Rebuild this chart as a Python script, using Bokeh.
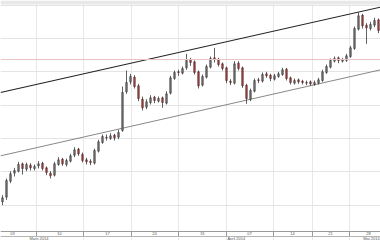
from bokeh.plotting import figure
from bokeh.models import Range1d, FixedTicker, ColumnDataSource, Span, BoxAnnotation
from bokeh.core.properties import value
from bokeh.embed import file_html
from bokeh.resources import INLINE

# ---- data ----
open_ = [4255, 4262, 4286, 4298, 4301, 4312, 4304, 4310, 4305, 4309, 4313, 4306, 4298, 4295, 4311, 4319, 4311, 4316, 4325, 4334,
         4326, 4318, 4316, 4313, 4331, 4344, 4352, 4350, 4355, 4352, 4362, 4420, 4435, 4442, 4429, 4409, 4397, 4404, 4412, 4406,
         4411, 4403, 4418, 4440, 4450, 4448, 4456, 4468, 4465, 4450, 4430, 4442, 4457, 4471, 4469, 4462, 4456, 4436, 4433, 4463,
         4456, 4430, 4409, 4421, 4438, 4436, 4447, 4445, 4439, 4443, 4446, 4454, 4441, 4433, 4438, 4436, 4433, 4435, 4431, 4433,
         4437, 4449, 4457, 4466, 4471, 4466, 4467, 4473, 4485, 4514, 4535, 4520, 4515, 4520, 4528]
high = [4265, 4290, 4301, 4306, 4315, 4314, 4314, 4313, 4311, 4316, 4315, 4308, 4301, 4315, 4322, 4321, 4320, 4327, 4337, 4336,
        4329, 4321, 4319, 4335, 4348, 4356, 4356, 4358, 4357, 4363, 4428, 4452, 4447, 4445, 4432, 4413, 4409, 4415, 4414, 4413,
        4413, 4421, 4444, 4452, 4453, 4458, 4477, 4471, 4467, 4452, 4446, 4461, 4473, 4486, 4471, 4464, 4458, 4439, 4466, 4466,
        4458, 4432, 4425, 4440, 4441, 4449, 4450, 4447, 4447, 4450, 4456, 4456, 4443, 4440, 4440, 4438, 4437, 4437, 4437, 4441,
        4453, 4461, 4470, 4473, 4473, 4471, 4477, 4489, 4518, 4539, 4537, 4523, 4525, 4531, 4530]
low = [4250, 4258, 4283, 4293, 4299, 4296, 4301, 4302, 4302, 4305, 4302, 4295, 4290, 4293, 4309, 4309, 4308, 4314, 4322, 4324,
       4314, 4311, 4310, 4311, 4329, 4342, 4347, 4348, 4347, 4349, 4360, 4417, 4431, 4425, 4406, 4392, 4394, 4401, 4403, 4404,
       4396, 4401, 4416, 4438, 4444, 4446, 4453, 4459, 4446, 4425, 4428, 4440, 4455, 4464, 4458, 4452, 4433, 4430, 4431, 4452,
       4426, 4402, 4406, 4419, 4433, 4434, 4441, 4436, 4437, 4441, 4444, 4437, 4431, 4431, 4432, 4431, 4430, 4429, 4429, 4431,
       4435, 4447, 4455, 4464, 4463, 4464, 4465, 4471, 4483, 4512, 4515, 4492, 4512, 4517, 4508]
close = [4261, 4287, 4297, 4302, 4311, 4305, 4311, 4306, 4308, 4312, 4305, 4299, 4294, 4312, 4318, 4312, 4317, 4324, 4333, 4327,
         4317, 4315, 4314, 4332, 4345, 4353, 4351, 4354, 4351, 4359, 4419, 4434, 4443, 4428, 4410, 4396, 4405, 4411, 4407, 4410,
         4404, 4417, 4441, 4449, 4449, 4455, 4467, 4464, 4449, 4429, 4443, 4458, 4470, 4468, 4461, 4455, 4437, 4434, 4462, 4455,
         4429, 4410, 4422, 4437, 4437, 4446, 4444, 4440, 4444, 4447, 4453, 4440, 4434, 4437, 4435, 4434, 4434, 4432, 4434, 4438,
         4450, 4458, 4467, 4470, 4467, 4468, 4474, 4486, 4515, 4534, 4519, 4516, 4521, 4527, 4512]

# channel trend lines (bar index, price)
trend_x = [-0.5, 94.5]
upper_trend = [4419, 4547]
lower_trend = [4324, 4453]
level_lines = [4468.5]

# time axis
week_ticks = [8.5, 20.25, 32.25, 44, 56, 67.75, 77.5, 86.75]
day_label_pos = [2.5, 14.25, 26.25, 38, 50, 61.75, 72.5, 82, 91.5]
day_labels = ["03", "10", "17", "24", "31", "07", "14", "21", "28"]
month_label_pos = [6.75, 56.25, 94.3]
month_labels = ["Mars 2014", "Avril 2014", "Mai 2014"]
month_align = ["left", "left", "right"]
price_grid = [4250, 4300, 4350, 4400, 4450, 4500, 4550]

# ---- figure ----
n = len(close)
idx = list(range(n))
up = [c >= o for o, c in zip(open_, close)]
src = ColumnDataSource(dict(
    x=idx, o=open_, h=high, l=low, c=close,
    top=[max(o, c) for o, c in zip(open_, close)],
    bot=[min(o, c) for o, c in zip(open_, close)],
    fill=["#7a7a7a" if u else "#a04646" for u in up],
    edge=["#333333" if u else "#552222" for u in up],
))

p = figure(width=380, height=240, output_backend="svg", toolbar_location=None,
           x_range=Range1d(-0.5, 94.5), y_range=Range1d(4197, 4557), min_border=0)
p.xaxis.visible = False
p.yaxis.visible = False
p.outline_line_color = None
p.background_fill_color = "white"
p.border_fill_color = "white"
p.xgrid.ticker = FixedTicker(ticks=week_ticks)
p.ygrid.ticker = FixedTicker(ticks=price_grid)
p.xgrid.grid_line_color = "#e8e8e8"
p.ygrid.grid_line_color = "#e4e4e4"
p.grid.grid_line_width = 1

# top shade band
p.add_layout(BoxAnnotation(bottom=4551, top=4557, fill_color="#e8e8e8", fill_alpha=1, line_color=None))

for lv in level_lines:
    p.add_layout(Span(location=lv, dimension="width", line_color="#e8c4c4", line_width=1))

# channel
p.line(trend_x, lower_trend, line_color="#7a7a7a", line_width=0.9)
p.line(trend_x, upper_trend, line_color="#222222", line_width=1.1)

# candles
p.segment(x0="x", y0="h", x1="x", y1="l", source=src, line_color="#3a3a3a", line_width=0.8)
p.vbar(x="x", top="top", bottom="bot", width=0.38, source=src, fill_color="fill", line_color="edge", line_width=0.6)

# bottom time strip
p.add_layout(Span(location=4210.5, dimension="width", line_color="#9a9a9a", line_width=1))
p.add_layout(Span(location=4203, dimension="width", line_color="#b4b4b4", line_width=1))
p.segment(x0=week_ticks, y0=[4210.5] * len(week_ticks), x1=week_ticks, y1=[4203] * len(week_ticks),
          line_color="#9a9a9a", line_width=1)
p.text(x=day_label_pos, y=[4206.8] * len(day_labels), text=day_labels, text_font=value("Liberation Sans"),
       text_font_size="4px", text_align="center", text_baseline="middle", text_color="#555555")
p.text(x=month_label_pos, y=[4199.8] * len(month_labels), text=month_labels, text_font=value("Liberation Sans"),
       text_font_size="4px", text_align=month_align, text_baseline="middle", text_color="#555555")

open("out.html", "w").write(file_html(p, INLINE))
